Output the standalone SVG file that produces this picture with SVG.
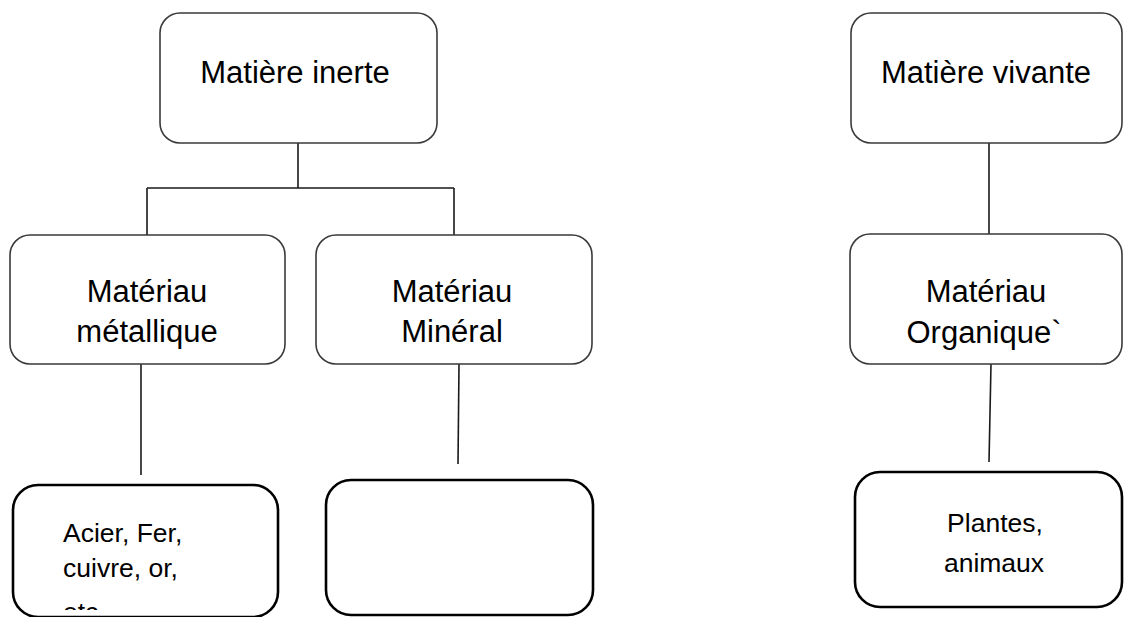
<svg xmlns="http://www.w3.org/2000/svg" width="1125" height="617" viewBox="0 0 1125 617">
<style>
.top{fill:#fff;stroke:#3a3a3a;stroke-width:1.6}
.bot{fill:#fff;stroke:#000;stroke-width:2.6}
.lbl{font-family:"Liberation Sans",Arial,sans-serif;font-size:31px;fill:#000;text-anchor:middle}
.sm{font-family:"Liberation Sans",Arial,sans-serif;font-size:26.5px;fill:#000}
.ln{fill:none;stroke:#1a1a1a;stroke-width:1.6}
</style>
<defs>
<clipPath id="clipAcier"><rect x="0" y="480" width="300" height="130"/></clipPath>
</defs>
<rect width="1125" height="617" fill="#fff"/>
<g id="connectors">
<path class="ln" d="M298 143 V188 M147 188 H454 M147 188 V235 M454 188 V235"/>
<path class="ln" d="M141 364 V475"/>
<path class="ln" d="M459 364 L458 464"/>
<path class="ln" d="M989 143 V234"/>
<path class="ln" d="M991 364 L989 462"/>
</g>
<g id="matiere-inerte">
<rect class="top" x="160" y="13" width="277" height="130" rx="20"/>
<text class="lbl" x="295" y="83">Matière inerte</text>
</g>
<g id="materiau-metallique">
<rect class="top" x="10" y="235" width="275" height="129" rx="20"/>
<text class="lbl" x="147" y="302">Matériau</text>
<text class="lbl" x="147" y="342">métallique</text>
</g>
<g id="materiau-mineral">
<rect class="top" x="316" y="235" width="276" height="129" rx="20"/>
<text class="lbl" x="452" y="302">Matériau</text>
<text class="lbl" x="452" y="342">Minéral</text>
</g>
<g id="matiere-vivante">
<rect class="top" x="851" y="13" width="271" height="130" rx="20"/>
<text class="lbl" x="986" y="83">Matière vivante</text>
</g>
<g id="materiau-organique">
<rect class="top" x="850" y="234" width="272" height="130" rx="20"/>
<text class="lbl" x="986" y="302">Matériau</text>
<text class="lbl" x="984" y="343">Organique`</text>
</g>
<g id="acier">
<rect class="bot" x="13" y="485" width="265" height="132" rx="25"/>
<g clip-path="url(#clipAcier)">
<text class="sm" x="63" y="542">Acier, Fer,</text>
<text class="sm" x="63" y="577">cuivre, or,</text>
<text class="sm" x="63" y="621">etc.</text>
</g>
</g>
<g id="mineral-exemples">
<rect class="bot" x="326" y="480" width="267" height="135" rx="25"/>
</g>
<g id="plantes">
<rect class="bot" x="855" y="472" width="267" height="135" rx="25"/>
<text class="sm" x="995" y="532" text-anchor="middle">Plantes,</text>
<text class="sm" x="994" y="572" text-anchor="middle">animaux</text>
</g>
</svg>
